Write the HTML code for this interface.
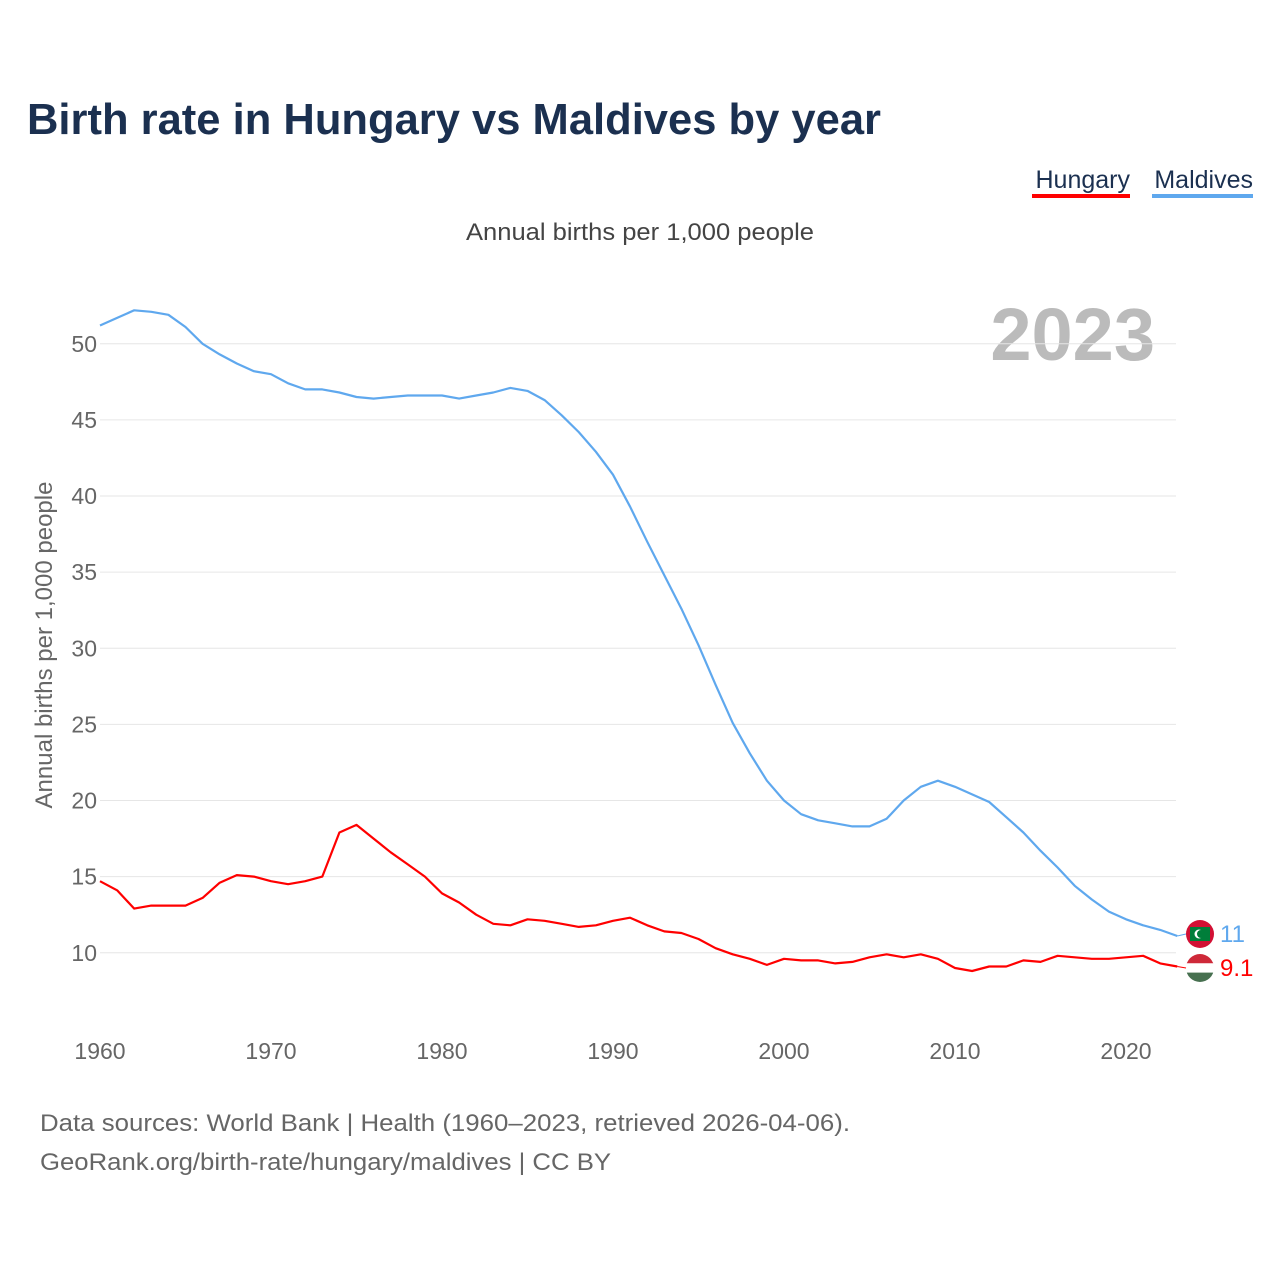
<!DOCTYPE html>
<html><head><meta charset="utf-8"><style>
body{margin:0;background:#fff;font-family:"Liberation Sans",sans-serif;}
#wrap{position:relative;width:1280px;height:1280px;overflow:hidden;}
</style></head><body>
<div id="wrap">
<svg id="chart" width="1280" height="1280"></svg>
</div>
<script>
const years = [];
for (let y = 1960; y <= 2023; y++) years.push(y);
const maldives = [51.2,51.7,52.2,52.1,51.9,51.1,50.0,49.3,48.7,48.2,48.0,47.4,47.0,47.0,46.8,46.5,46.4,46.5,46.6,46.6,46.6,46.4,46.6,46.8,47.1,46.9,46.3,45.3,44.2,42.9,41.4,39.3,37.0,34.8,32.6,30.2,27.6,25.1,23.1,21.3,20.0,19.1,18.7,18.5,18.3,18.3,18.8,20.0,20.9,21.3,20.9,20.4,19.9,18.9,17.9,16.7,15.6,14.4,13.5,12.7,12.2,11.8,11.5,11.1];
const hungary = [14.7,14.1,12.9,13.1,13.1,13.1,13.6,14.6,15.1,15.0,14.7,14.5,14.7,15.0,17.9,18.4,17.5,16.6,15.8,15.0,13.9,13.3,12.5,11.9,11.8,12.2,12.1,11.9,11.7,11.8,12.1,12.3,11.8,11.4,11.3,10.9,10.3,9.9,9.6,9.2,9.6,9.5,9.5,9.3,9.4,9.7,9.9,9.7,9.9,9.6,9.0,8.8,9.1,9.1,9.5,9.4,9.8,9.7,9.6,9.6,9.7,9.8,9.3,9.1];
const yTicks = [10,15,20,25,30,35,40,45,50];
const xTicks = [1960,1970,1980,1990,2000,2010,2020];

const NS = "http://www.w3.org/2000/svg";
const svg = document.getElementById("chart");
function xs(v){ return 100 + (v - 1960) * 17.1; }
function ys(v){ return 1105 - v * 15.225; }
function mk(tag, attrs, text){
  const e = document.createElementNS(NS, tag);
  for (const k in attrs) e.setAttribute(k, attrs[k]);
  if (text !== undefined) e.textContent = text;
  svg.appendChild(e);
  return e;
}
let t;
t = mk("text",{x:27,y:134,"font-size":44,"font-weight":"bold",fill:"#1b3050",textLength:854,lengthAdjust:"spacingAndGlyphs"},"Birth rate in Hungary vs Maldives by year");


t = mk("text",{x:1130,y:188,"font-size":25,fill:"#1b3050","text-anchor":"end"},"Hungary");


t = mk("rect",{x:1032,y:194,width:98,height:4,fill:"#f00"});


t = mk("text",{x:1253,y:188,"font-size":25,fill:"#1b3050","text-anchor":"end"},"Maldives");


t = mk("rect",{x:1152,y:194,width:101,height:4,fill:"#5fa8ee"});


t = mk("text",{x:466,y:240,"font-size":24,fill:"#444",textLength:348,lengthAdjust:"spacingAndGlyphs"},"Annual births per 1,000 people");


t = mk("text",{x:1155,y:360,"font-size":74,"font-weight":"bold",fill:"#bbb","text-anchor":"end"},"2023");


t = mk("text",{x:52,y:645,"font-size":24,fill:"#666","text-anchor":"middle",transform:"rotate(-90 52 645)"},"Annual births per 1,000 people");


yTicks.forEach(v=>{
  const g = mk("line",{x1:100,x2:1176,y1:ys(v),y2:ys(v),stroke:"#e6e6e6","stroke-width":1});
  
  
  const l = mk("text",{x:97,y:ys(v)+8,"font-size":23,fill:"#666","text-anchor":"end"},String(v));
  
  
});
xTicks.forEach(v=>{
  const l = mk("text",{x:xs(v),y:1059,"font-size":23,fill:"#666","text-anchor":"middle"},String(v));
  
  
});
function line(vals,color,name){
  const d = vals.map((v,i)=>(i?"L":"M")+xs(years[i]).toFixed(1)+","+ys(v).toFixed(1)).join("");
  const p = mk("path",{d:d,fill:"none",stroke:color,"stroke-width":2.2,"stroke-linejoin":"round"});
  
  
}
line(maldives,"#5fa8ee","maldives-line");
line(hungary,"#f00","hungary-line");
const last = years.length-1;
let m = mk("circle",{cx:1200,cy:934,r:14,fill:"#d21034"});


m = mk("rect",{x:1190,y:927,width:20,height:14,fill:"#007e3a"});


m = mk("circle",{cx:1199,cy:934,r:4.5,fill:"#fff"});


m = mk("circle",{cx:1201,cy:934,r:4,fill:"#007e3a"});


m = mk("line",{x1:xs(2023),y1:ys(maldives[last]),x2:1186,y2:934,stroke:"#5fa8ee","stroke-width":1});


m = mk("text",{x:1220,y:942,"font-size":24,fill:"#5fa8ee"},String(Math.round(maldives[last])));


const defs = mk("defs",{});
const cp = document.createElementNS(NS,"clipPath"); cp.setAttribute("id","hc");
const cc = document.createElementNS(NS,"circle"); cc.setAttribute("cx",1200);cc.setAttribute("cy",968);cc.setAttribute("r",14);
cp.appendChild(cc); defs.appendChild(cp);
[["#ce2939",954],["#fff",963.3],["#477050",972.6]].forEach(([c,y])=>{
  const r = mk("rect",{x:1186,y:y,width:28,height:9.4,fill:c,"clip-path":"url(#hc)"});
  
  
});
m = mk("line",{x1:xs(2023),y1:ys(hungary[last]),x2:1186,y2:968,stroke:"#f00","stroke-width":1});


m = mk("text",{x:1220,y:976,"font-size":24,fill:"#f00"},hungary[last].toFixed(1));


t = mk("text",{x:40,y:1131,"font-size":24,fill:"#666",textLength:810,lengthAdjust:"spacingAndGlyphs"},"Data sources: World Bank | Health (1960–2023, retrieved 2026-04-06).");


t = mk("text",{x:40,y:1170,"font-size":24,fill:"#666",textLength:571,lengthAdjust:"spacingAndGlyphs"},"GeoRank.org/birth-rate/hungary/maldives | CC BY");


</script>
</body></html>
